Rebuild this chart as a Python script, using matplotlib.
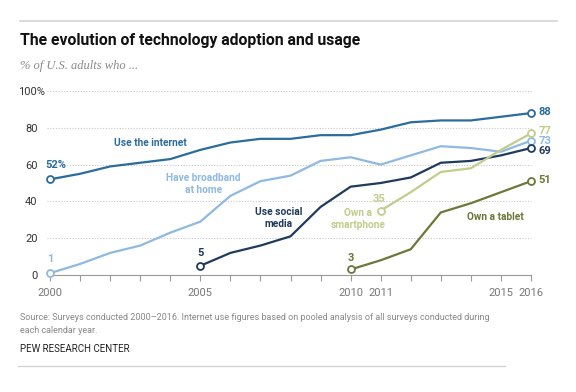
import matplotlib.pyplot as plt
import matplotlib.transforms as mtransforms
import numpy as np

# data
years_internet = list(range(2000, 2017))
internet = [52, 55, 59, 61, 63, 68, 72, 74, 74, 76, 76, 79, 83, 84, 84, 86, 88]
years_broadband = list(range(2000, 2017))
broadband = [1, 6, 12, 16, 23, 29, 43, 51, 54, 62, 64, 60, 65, 70, 69, 67, 73]
years_social = list(range(2005, 2017))
social = [5, 12, 16, 21, 37, 48, 50, 53, 61, 62, 65, 69]
years_smart = list(range(2011, 2017))
smartphone = [35, 45, 56, 58, 68, 77]
years_tablet = list(range(2010, 2017))
tablet = [3, 8, 14, 34, 39, 45, 51]

xtick_labels = [2000, 2005, 2010, 2011, 2015, 2016]

c_internet = "#2b6c9e"
c_broad = "#8fb9e1"
c_social = "#1e3a5c"
c_smart = "#c0cd8c"
c_tablet = "#6b7837"

plt.rcParams['font.family'] = ['Roboto', 'DejaVu Sans']

fig = plt.figure(figsize=(5.76, 3.92), dpi=100)
ax = fig.add_axes([50 / 576, 1 - 275 / 392, 481 / 576, 184 / 392])


def drawLine(x, y, color):
    ax.plot(x, y, color=color, lw=1.6, zorder=3, solid_capstyle="round")
    ax.plot([x[0], x[-1]], [y[0], y[-1]], "o", ms=5, mfc="white", mec=color,
            mew=1.3, zorder=4, clip_on=False)


drawLine(years_internet, internet, c_internet)
drawLine(years_broadband, broadband, c_broad)
drawLine(years_social, social, c_social)
drawLine(years_smart, smartphone, c_smart)
drawLine(years_tablet, tablet, c_tablet)

ax.set_xlim(2000, 2016)
ax.set_ylim(0, 100)
for v in [20, 40, 60, 80, 100]:
    ax.plot([1999.9, 2016], [v, v], ls=(0, (1, 1.5)), color="#c8c8c8", lw=0.8,
            zorder=1, clip_on=False)

for s in ["top", "right", "left"]:
    ax.spines[s].set_visible(False)
ax.spines["bottom"].set_color("#999999")
ax.spines["bottom"].set_linewidth(0.8)

ax.set_yticks([0, 20, 40, 60, 80, 100])
ax.set_yticklabels(["0", "20", "40", "60", "80", "100%"], fontsize=8, color="#333333")
ax.tick_params(axis="y", length=0, pad=9)
# let the % sign hang to the right like the original
lab = ax.get_yticklabels()[-1]
lab.set_transform(lab.get_transform() + mtransforms.ScaledTranslation(0.08, 0, fig.dpi_scale_trans))
ax.set_xticks(range(2000, 2017))
ax.set_xticklabels([str(y) if y in xtick_labels else "" for y in range(2000, 2017)],
                   fontsize=8, color="#777777")
ax.tick_params(axis="x", length=4, color="#999999", width=0.8, pad=5)

# series labels
kw = dict(fontsize=7.3, fontweight="bold", ha="center", va="center")
ax.text(2003.35, 71.7, "Use the internet", color=c_internet, **kw)
ax.text(2005.1, 49.5, "Have broadband\nat home", color=c_broad, linespacing=1.25, **kw)
ax.text(2007.6, 31, "Use social\nmedia", color=c_social, linespacing=1.25, **kw)
ax.text(2010.25, 30.4, "Own a\nsmartphone", color=c_smart, linespacing=1.25, **kw)
ax.text(2014.8, 31.5, "Own a tablet", color=c_tablet, **kw)

# value labels
kv = dict(fontsize=8, fontweight="bold", va="center")
ax.text(1999.85, 60, "52%", color=c_internet, ha="left", **kv)
ax.text(2000, 8.5, "1", color=c_broad, ha="center", **kv)
ax.text(2005, 12, "5", color=c_social, ha="center", **kv)
ax.text(2010, 9, "3", color=c_tablet, ha="center", **kv)
ax.text(2010.95, 41.5, "35", color=c_smart, ha="center", **kv)
ax.text(2016.25, 88.5, "88", color=c_internet, ha="left", **kv)
ax.text(2016.25, 78, "77", color=c_smart, ha="left", **kv)
ax.text(2016.25, 72.6, "73", color=c_broad, ha="left", **kv)
ax.text(2016.25, 67.2, "69", color=c_social, ha="left", **kv)
ax.text(2016.25, 51.5, "51", color=c_tablet, ha="left", **kv)

# header and footer
fig.add_artist(plt.Line2D([20 / 576, 557 / 576], [1 - 21 / 392] * 2, color="#d4d4d4", lw=1.2))
fig.add_artist(plt.Line2D([18 / 576, 505 / 576], [1 - 366 / 392] * 2, color="#d4d4d4", lw=1))
fig.text(20 / 576, 1 - 40 / 392, "The evolution of technology adoption and usage",
         fontsize=11.3, fontweight="bold", color="#111111", va="center")
fig.text(20 / 576, 1 - 66 / 392, "% of U.S. adults who ...", fontsize=9,
         family="Liberation Serif", style="italic", color="#8a8a8a", va="center")
fig.text(20 / 576, 1 - 324 / 392,
         "Source: Surveys conducted 2000\u20132016. Internet use figures based on pooled analysis of all surveys conducted during\neach calendar year.",
         fontsize=6.5, color="#888888", va="center", linespacing=1.5)
fig.text(20 / 576, 1 - 349 / 392, "PEW RESEARCH CENTER", fontsize=7, color="#222222",
         va="center")

fig.savefig("out.png", dpi=100)
